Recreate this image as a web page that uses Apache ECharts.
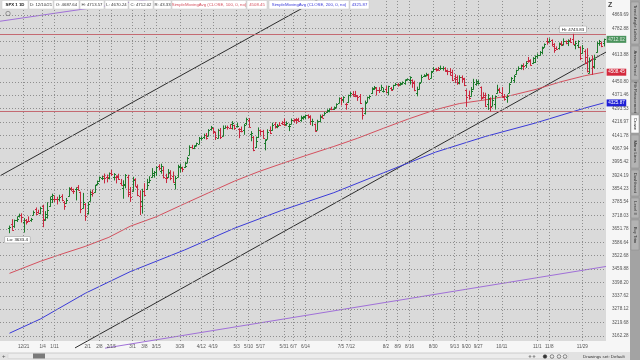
<!DOCTYPE html>
<html><head><meta charset="utf-8">
<script src="https://cdn.jsdelivr.net/npm/echarts@6/dist/echarts.min.js"></script>
<style>html,body{margin:0;padding:0;background:#fff;overflow:hidden}#c{width:640px;height:360px}</style>
</head><body><div id="c"></div>
<script>
// ---------- DATA ----------
const dates = [
'2020-12-11','2020-12-14','2020-12-15','2020-12-16','2020-12-17','2020-12-18','2020-12-21','2020-12-22','2020-12-23','2020-12-24','2020-12-28','2020-12-29','2020-12-30','2020-12-31',
'2021-01-04','2021-01-05','2021-01-06','2021-01-07','2021-01-08','2021-01-11','2021-01-12','2021-01-13','2021-01-14','2021-01-15','2021-01-19','2021-01-20','2021-01-21','2021-01-22','2021-01-25','2021-01-26','2021-01-27','2021-01-28','2021-01-29',
'2021-02-01','2021-02-02','2021-02-03','2021-02-04','2021-02-05','2021-02-08','2021-02-09','2021-02-10','2021-02-11','2021-02-12','2021-02-16','2021-02-17','2021-02-18','2021-02-19','2021-02-22','2021-02-23','2021-02-24','2021-02-25','2021-02-26',
'2021-03-01','2021-03-02','2021-03-03','2021-03-04','2021-03-05','2021-03-08','2021-03-09','2021-03-10','2021-03-11','2021-03-12','2021-03-15','2021-03-16','2021-03-17','2021-03-18','2021-03-19','2021-03-22','2021-03-23','2021-03-24','2021-03-25','2021-03-26','2021-03-29','2021-03-30','2021-03-31',
'2021-04-01','2021-04-05','2021-04-06','2021-04-07','2021-04-08','2021-04-09','2021-04-12','2021-04-13','2021-04-14','2021-04-15','2021-04-16','2021-04-19','2021-04-20','2021-04-21','2021-04-22','2021-04-23','2021-04-26','2021-04-27','2021-04-28','2021-04-29','2021-04-30',
'2021-05-03','2021-05-04','2021-05-05','2021-05-06','2021-05-07','2021-05-10','2021-05-11','2021-05-12','2021-05-13','2021-05-14','2021-05-17','2021-05-18','2021-05-19','2021-05-20','2021-05-21','2021-05-24','2021-05-25','2021-05-26','2021-05-27','2021-05-28',
'2021-06-01','2021-06-02','2021-06-03','2021-06-04','2021-06-07','2021-06-08','2021-06-09','2021-06-10','2021-06-11','2021-06-14','2021-06-15','2021-06-16','2021-06-17','2021-06-18','2021-06-21','2021-06-22','2021-06-23','2021-06-24','2021-06-25','2021-06-28','2021-06-29','2021-06-30',
'2021-07-01','2021-07-02','2021-07-06','2021-07-07','2021-07-08','2021-07-09','2021-07-12','2021-07-13','2021-07-14','2021-07-15','2021-07-16','2021-07-19','2021-07-20','2021-07-21','2021-07-22','2021-07-23','2021-07-26','2021-07-27','2021-07-28','2021-07-29','2021-07-30',
'2021-08-02','2021-08-03','2021-08-04','2021-08-05','2021-08-06','2021-08-09','2021-08-10','2021-08-11','2021-08-12','2021-08-13','2021-08-16','2021-08-17','2021-08-18','2021-08-19','2021-08-20','2021-08-23','2021-08-24','2021-08-25','2021-08-26','2021-08-27','2021-08-30','2021-08-31',
'2021-09-01','2021-09-02','2021-09-03','2021-09-07','2021-09-08','2021-09-09','2021-09-10','2021-09-13','2021-09-14','2021-09-15','2021-09-16','2021-09-17','2021-09-20','2021-09-21','2021-09-22','2021-09-23','2021-09-24','2021-09-27','2021-09-28','2021-09-29','2021-09-30',
'2021-10-01','2021-10-04','2021-10-05','2021-10-06','2021-10-07','2021-10-08','2021-10-11','2021-10-12','2021-10-13','2021-10-14','2021-10-15','2021-10-18','2021-10-19','2021-10-20','2021-10-21','2021-10-22','2021-10-25','2021-10-26','2021-10-27','2021-10-28','2021-10-29',
'2021-11-01','2021-11-02','2021-11-03','2021-11-04','2021-11-05','2021-11-08','2021-11-09','2021-11-10','2021-11-11','2021-11-12','2021-11-15','2021-11-16','2021-11-17','2021-11-18','2021-11-19','2021-11-22','2021-11-23','2021-11-24','2021-11-26','2021-11-29','2021-11-30',
'2021-12-01','2021-12-02','2021-12-03','2021-12-06','2021-12-07','2021-12-08','2021-12-09','2021-12-10'];

const open = [
3656.08,3675.27,3666.41,3696.25,3713.65,3722.39,3684.28,3698.08,3693.42,3694.03,3723.03,3750.01,3736.19,3733.27,
3764.61,3698.02,3712.20,3764.71,3815.05,3803.14,3801.62,3802.23,3814.98,3788.73,3781.88,3816.22,3857.46,3844.24,3851.68,3862.96,3836.83,3755.75,3778.05,
3731.17,3791.84,3840.27,3836.66,3878.30,3892.59,3910.49,3920.78,3916.40,3911.65,3939.61,3918.50,3915.86,3921.16,3885.55,3857.07,3873.71,3915.80,3839.66,
3842.51,3903.64,3863.99,3818.53,3793.58,3844.39,3851.93,3891.99,3915.54,3924.52,3942.96,3973.59,3949.57,3953.50,3913.14,3916.48,3937.60,3919.93,3879.34,3917.12,3969.31,3963.34,3967.25,
3992.78,4034.44,4075.57,4074.29,4089.95,4096.11,4124.71,4130.10,4141.58,4139.76,4174.14,4179.80,4159.18,4128.42,4170.46,4138.78,4185.03,4188.25,4185.14,4206.14,4198.10,
4191.98,4179.04,4177.06,4169.14,4210.34,4228.29,4150.34,4130.55,4074.99,4129.58,4169.92,4165.94,4098.45,4121.97,4168.61,4170.16,4205.94,4191.59,4201.94,4210.77,
4216.52,4206.82,4191.43,4206.05,4229.34,4233.81,4232.99,4228.56,4242.90,4248.31,4255.28,4248.87,4220.37,4204.78,4173.40,4224.61,4249.27,4256.97,4274.45,4284.90,4293.21,4290.65,
4300.73,4326.60,4356.46,4351.01,4321.07,4329.38,4372.41,4381.07,4380.11,4369.02,4367.43,4296.40,4265.11,4331.13,4361.27,4381.20,4409.58,4416.38,4402.95,4403.59,4395.12,
4406.86,4392.74,4415.95,4408.86,4429.07,4437.77,4435.79,4442.18,4446.08,4464.84,4461.65,4462.12,4440.94,4382.44,4410.56,4450.29,4484.40,4490.45,4493.75,4474.10,4513.76,4529.75,
4528.80,4534.48,4532.42,4535.38,4518.09,4513.02,4506.92,4474.81,4479.33,4447.49,4477.09,4469.74,4402.95,4374.45,4367.43,4406.75,4438.04,4442.12,4419.54,4362.41,4370.67,
4317.16,4348.84,4309.87,4319.57,4383.73,4406.51,4385.44,4368.31,4358.01,4386.75,4447.69,4463.72,4497.34,4524.42,4532.24,4546.12,4553.69,4578.69,4580.22,4562.84,4572.87,
4610.62,4613.34,4630.65,4662.93,4699.26,4701.48,4707.25,4670.26,4659.39,4655.24,4689.30,4679.42,4701.50,4700.72,4708.44,4712.00,4678.48,4675.78,4664.63,4628.75,4640.25,
4602.82,4504.73,4589.49,4548.37,4631.97,4690.86,4691.00,4687.64];

const high = [
3665.91,3697.61,3695.29,3711.27,3725.12,3726.70,3702.90,3698.26,3711.24,3703.82,3740.51,3756.12,3744.63,3760.20,
3769.99,3737.83,3783.04,3811.55,3826.69,3817.86,3810.78,3820.96,3823.60,3788.73,3804.53,3859.75,3861.45,3852.31,3859.23,3870.90,3836.83,3830.50,3778.05,
3784.32,3843.09,3847.51,3872.42,3894.56,3915.77,3918.35,3931.50,3925.99,3937.23,3950.43,3933.61,3921.98,3930.41,3902.92,3895.98,3928.65,3925.02,3861.08,
3914.50,3906.41,3874.47,3843.67,3851.69,3881.06,3903.76,3917.35,3960.27,3944.99,3970.08,3981.04,3983.87,3969.62,3930.12,3955.31,3949.13,3942.08,3919.54,3978.19,3981.83,3968.01,3994.41,
4020.63,4083.42,4086.23,4083.13,4098.19,4129.48,4131.76,4148.00,4151.69,4173.49,4191.31,4180.81,4159.18,4175.02,4179.57,4194.17,4194.19,4193.35,4201.53,4218.78,4198.10,
4209.39,4179.04,4187.72,4202.70,4238.04,4236.39,4162.04,4134.73,4131.58,4183.13,4171.92,4169.15,4116.93,4172.80,4188.72,4209.52,4213.42,4202.61,4213.38,4218.36,
4234.12,4217.37,4204.39,4233.45,4232.34,4236.74,4237.09,4249.74,4248.38,4255.59,4257.16,4251.89,4232.29,4204.78,4226.24,4255.84,4256.60,4271.28,4286.12,4292.14,4300.52,4302.43,
4320.66,4355.43,4356.46,4361.88,4324.32,4371.60,4386.68,4392.37,4393.68,4369.02,4375.09,4296.40,4336.84,4359.70,4369.87,4415.18,4422.73,4416.38,4415.47,4429.97,4412.25,
4422.18,4423.79,4416.17,4429.76,4440.82,4439.39,4445.21,4449.44,4461.77,4468.37,4480.26,4462.12,4454.32,4418.61,4444.35,4489.88,4492.81,4501.71,4495.90,4513.33,4537.36,4531.39,
4537.11,4545.85,4541.45,4535.38,4521.79,4529.90,4520.47,4492.99,4485.68,4486.87,4485.87,4471.52,4402.95,4394.87,4416.75,4465.40,4463.12,4457.30,4419.54,4385.57,4382.55,
4375.19,4355.51,4369.23,4365.57,4429.97,4412.02,4415.88,4374.89,4372.87,4439.73,4475.82,4488.75,4520.40,4540.87,4551.44,4559.67,4572.62,4598.53,4584.57,4597.55,4608.08,
4620.34,4635.15,4663.46,4683.00,4718.50,4714.92,4708.53,4684.85,4664.55,4688.47,4697.42,4714.95,4701.50,4708.80,4717.75,4743.83,4699.39,4702.87,4664.63,4672.95,4646.02,
4652.94,4595.46,4608.03,4612.60,4694.04,4705.06,4695.26,4713.57];

const low = [
3633.40,3645.84,3659.62,3688.57,3710.87,3685.84,3636.48,3676.16,3689.28,3689.32,3723.03,3723.31,3730.21,3726.88,
3662.71,3695.07,3705.34,3764.71,3783.60,3789.02,3776.51,3791.50,3792.86,3749.62,3780.37,3816.22,3845.05,3830.41,3797.16,3847.78,3732.48,3755.75,3694.12,
3725.62,3791.84,3816.68,3836.66,3874.93,3892.59,3902.64,3884.94,3890.39,3905.78,3923.85,3900.43,3885.03,3903.07,3874.71,3805.59,3859.60,3814.04,3789.54,
3842.51,3868.57,3818.86,3723.34,3730.19,3819.25,3851.93,3885.73,3915.54,3915.21,3923.54,3953.44,3935.74,3910.86,3886.75,3914.16,3901.57,3889.07,3853.50,3917.12,3943.25,3944.35,3966.98,
3992.78,4034.44,4068.14,4068.31,4082.54,4095.51,4114.82,4124.43,4120.87,4139.76,4170.75,4150.47,4118.38,4126.35,4123.69,4138.78,4182.36,4176.22,4181.78,4176.81,4174.85,
4188.03,4128.59,4160.94,4147.33,4201.64,4188.13,4111.53,4056.88,4074.99,4129.58,4142.69,4125.99,4061.41,4121.97,4151.72,4170.16,4182.52,4184.11,4197.78,4203.57,
4197.59,4198.27,4167.93,4206.05,4215.66,4208.41,4218.74,4220.34,4232.25,4234.07,4238.35,4202.45,4196.05,4164.40,4173.40,4217.27,4241.43,4256.97,4271.16,4274.67,4287.04,4287.96,
4300.73,4326.60,4314.37,4329.79,4289.52,4329.38,4364.03,4366.92,4362.36,4340.70,4322.53,4233.13,4262.05,4331.13,4350.06,4381.20,4405.45,4372.51,4387.01,4403.59,4389.65,
4384.81,4373.00,4400.23,4408.86,4429.07,4424.74,4430.03,4436.42,4435.96,4460.82,4437.66,4417.83,4397.59,4367.73,4406.80,4450.29,4482.28,4485.66,4468.99,4474.10,4513.76,4515.80,
4522.02,4524.66,4521.30,4513.00,4493.95,4492.07,4457.66,4445.70,4435.46,4438.37,4447.59,4427.76,4305.91,4347.96,4367.43,4406.75,4430.27,4436.19,4346.33,4355.08,4306.24,
4288.52,4278.94,4309.87,4290.49,4383.73,4386.22,4360.59,4342.09,4329.92,4386.75,4447.69,4447.47,4496.41,4524.40,4526.89,4524.00,4537.36,4569.17,4551.66,4562.84,4567.59,
4595.06,4613.34,4621.19,4662.59,4681.32,4694.39,4670.87,4630.86,4648.31,4650.77,4672.86,4679.42,4684.41,4672.78,4694.22,4682.17,4652.66,4659.89,4585.43,4625.26,4560.00,
4510.27,4504.73,4495.12,4532.46,4631.97,4674.52,4665.98,4670.24];

const close = [
3663.46,3647.49,3694.62,3701.17,3722.48,3709.41,3694.92,3687.26,3690.01,3703.06,3735.36,3727.04,3732.04,3756.07,
3700.65,3726.86,3748.14,3803.79,3824.68,3799.61,3801.19,3809.84,3795.54,3768.25,3798.91,3851.85,3853.07,3841.47,3855.36,3849.62,3750.77,3787.38,3714.24,
3773.86,3826.31,3830.17,3871.74,3886.83,3915.59,3911.23,3909.88,3916.38,3934.83,3932.59,3931.33,3913.97,3906.71,3876.50,3881.37,3925.43,3829.34,3811.15,
3901.82,3870.29,3819.72,3768.47,3841.94,3821.35,3875.44,3898.81,3939.34,3943.34,3968.94,3962.71,3974.12,3915.46,3913.10,3940.59,3910.52,3889.14,3909.52,3974.54,3971.09,3958.55,3972.89,
4019.87,4077.91,4073.94,4079.95,4097.17,4128.80,4127.99,4141.59,4124.66,4170.42,4185.47,4163.26,4134.94,4173.42,4134.98,4180.17,4187.62,4186.72,4183.18,4211.47,4181.17,
4192.66,4164.66,4167.59,4201.62,4232.60,4188.43,4152.10,4063.04,4112.50,4173.85,4163.29,4127.83,4115.68,4159.12,4155.86,4197.05,4188.13,4195.99,4200.88,4204.11,
4202.04,4208.12,4192.85,4229.89,4226.52,4227.26,4219.55,4239.18,4247.44,4255.15,4246.59,4223.70,4221.86,4166.45,4224.79,4246.44,4241.84,4266.49,4280.70,4290.61,4291.80,4297.50,
4319.94,4352.34,4343.54,4358.13,4320.82,4369.55,4384.63,4369.21,4374.30,4360.03,4327.16,4258.49,4323.06,4358.69,4367.48,4411.79,4422.30,4401.46,4400.64,4419.15,4395.26,
4387.16,4423.15,4402.66,4429.10,4436.52,4432.35,4436.75,4447.70,4460.83,4468.00,4479.71,4448.08,4400.27,4405.80,4441.67,4479.53,4486.23,4496.19,4470.00,4509.37,4528.79,4522.68,
4524.09,4536.95,4535.43,4520.03,4514.07,4493.28,4458.58,4468.73,4443.05,4480.70,4473.75,4432.99,4357.73,4354.19,4395.64,4448.98,4455.48,4443.11,4352.63,4359.46,4307.54,
4357.04,4300.46,4345.72,4363.55,4399.76,4391.34,4361.19,4350.65,4363.80,4438.26,4471.37,4486.46,4519.63,4536.19,4549.78,4544.90,4566.48,4574.79,4551.68,4596.42,4605.38,
4613.67,4630.65,4660.57,4680.06,4697.53,4701.70,4685.25,4646.71,4649.27,4682.85,4682.80,4700.90,4688.67,4704.54,4697.96,4682.94,4690.70,4701.46,4594.62,4655.27,4567.00,
4513.04,4577.10,4538.43,4591.67,4686.75,4701.21,4667.45,4712.02];

// Moving averages
const sma100Dates = ['2020-12-11','2020-12-31','2021-01-15','2021-01-29','2021-02-12','2021-02-26','2021-03-15','2021-03-31','2021-04-15','2021-04-30','2021-05-14','2021-05-28','2021-06-15','2021-06-30','2021-07-15','2021-07-30','2021-08-13','2021-08-31','2021-09-15','2021-09-30','2021-10-15','2021-10-29','2021-11-15','2021-11-30','2021-12-10'];
const sma100Vals  = [3440,3496,3534,3567,3611,3665,3712,3778,3833,3894,3943,3987,4034,4080,4125,4181,4231,4287,4322,4344,4370,4404,4451,4487,4508.45];
const sma200Dates = ['2020-12-11','2020-12-31','2021-01-29','2021-02-26','2021-03-31','2021-04-30','2021-05-28','2021-06-30','2021-07-30','2021-08-31','2021-09-30','2021-10-29','2021-11-30','2021-12-10'];
const sma200Vals  = [3174,3235,3349,3448,3550,3655,3744,3834,3938,4049,4135,4210,4296,4325.87];

// Price-axis ticks and labels
const yTicks = [3162.28,3219.68,3278.12,3337.62,3398.20,3459.88,3522.68,3586.64,3651.78,3718.03,3785.54,3854.23,3924.19,3995.42,4067.94,4141.78,4216.97,4293.53,4371.46,4450.80,4531.59,4613.88,4697.61,4782.88,4869.69];
const yTickLabels = ['3162.28','3219.68','3278.12','3337.62','3398.20','3459.88','3522.68','3586.64','3651.78','3718.03','3785.54','3854.23','3924.19','3995.42','4067.94','4141.78','4216.97','4293.53','4371.46','4450.80','','4613.88','','4782.88','4869.69'];
// Time-axis ticks and labels
const xTickDates = ['2020-12-21','2021-01-04','2021-01-11','2021-02-01','2021-02-08','2021-02-15','2021-03-01','2021-03-08','2021-03-15','2021-03-29','2021-04-12','2021-04-19','2021-05-03','2021-05-10','2021-05-17','2021-05-31','2021-06-07','2021-06-14','2021-07-05','2021-07-12','2021-08-02','2021-08-09','2021-08-16','2021-08-30','2021-09-13','2021-09-20','2021-09-27','2021-10-11','2021-11-01','2021-11-08','2021-11-29'];
const xTickLabels = ['12/21','1/4','1/11','2/1','2/8','2/15','3/1','3/8','3/15','3/29','4/12','4/19','5/3','5/10','5/17','5/31','6/7','6/14','7/5','7/12','8/2','8/9','8/16','8/30','9/13','9/20','9/27','10/11','11/1','11/8','11/29'];

// Drawing tools on the chart (bar index, price)
const hLinePrices = [4745, 4280];
const blackLine1 = [[-4, 3922], [135.4, 5016]];
const blackLine2 = [[27.7, 3112], [252, 4632]];
const purpleLine1 = [[-4, 4828], [63.6, 4982]];
const purpleLine2 = [[40.4, 3111], [252, 3472]];

// ---------- CHART ----------
const FONT = 'Liberation Sans, Arial, sans-serif';
const UP = '#1d7a2c', DN = '#c8283f';
const RED = '#d4505e', BLUE = '#3a3ad8', PURPLE = '#a070d8';
const N = dates.length;
const idxOf = d => { const k = dates.findIndex(x => x >= d); return k < 0 ? N - 1 : k; };
const bars = dates.map((d, i) => [i, open[i], high[i], low[i], close[i]]);
const sma100 = sma100Dates.map((d, k) => [idxOf(d), sma100Vals[k]]);
const sma200 = sma200Dates.map((d, k) => [idxOf(d), sma200Vals[k]]);
let hiIdx = 0, loIdx = 0;
for (let i = 1; i < N; i++) { if (high[i] > high[hiIdx]) hiIdx = i; if (low[i] < low[loIdx]) loIdx = i; }
const last = N - 1;

const chart = echarts.init(document.getElementById('c'), null, { renderer: 'canvas' });

const gridLines = [];
yTicks.forEach((v, k) => gridLines.push({ yAxis: v, label: { show: true, position: 'end', distance: 6, formatter: yTickLabels[k] } }));
xTickDates.forEach((d, k) => gridLines.push({ xAxis: idxOf(d), label: { show: true, position: 'start', distance: 3, formatter: xTickLabels[k] } }));

function tl(data, color, w) {
  return { type: 'line', data: data, clip: false, symbol: 'none', silent: true, animation: false, z: 3,
    lineStyle: { color: color, width: w || 1 } };
}

// header items
const hdr = [
  { x: 2, w: 26, t: 'SPX 1 1D', c: '#111', b: true },
  { x: 29, w: 24, t: 'D: ' + dates[last].slice(5, 7) + '/' + dates[last].slice(8) + '/' + dates[last].slice(2, 4), c: '#333' },
  { x: 54, w: 25, t: 'O: ' + open[last].toFixed(2), c: '#333' },
  { x: 80, w: 24, t: 'H: ' + high[last].toFixed(2), c: '#333' },
  { x: 105, w: 23, t: 'L: ' + low[last].toFixed(2), c: '#333' },
  { x: 129, w: 24, t: 'C: ' + close[last].toFixed(2), c: '#333' },
  { x: 154, w: 17, t: 'R: ' + (high[last] - low[last]).toFixed(2), c: '#333' },
  { x: 172, w: 74, t: 'SimpleMovingAvg (CLOSE, 100, 0, no)', c: RED },
  { x: 247, w: 20, t: sma100Vals[sma100Vals.length - 1].toFixed(2), c: RED },
  { x: 269, w: 80, t: 'SimpleMovingAvg (CLOSE, 200, 0, no)', c: BLUE },
  { x: 350, w: 19, t: sma200Vals[sma200Vals.length - 1].toFixed(2), c: BLUE }
];
const graphics = [];
// panels
graphics.push({ type: 'rect', z: 0, shape: { x: 606, y: 0, width: 24, height: 352 }, style: { fill: '#f6f6f6' } });
graphics.push({ type: 'rect', z: 0, shape: { x: 0, y: 341, width: 630, height: 11 }, style: { fill: '#f6f6f6' } });
graphics.push({ type: 'rect', z: 0, shape: { x: 0, y: 352, width: 630, height: 8 }, style: { fill: '#e2e2e2' } });
graphics.push({ type: 'rect', z: 0, shape: { x: 8, y: 353.5, width: 560, height: 5 }, style: { fill: '#ececec', stroke: '#cfcfcf', lineWidth: 0.5 } });
graphics.push({ type: 'rect', z: 0, shape: { x: 33, y: 353.5, width: 12, height: 5 }, style: { fill: '#7a7a7a' } });
graphics.push({ type: 'text', z: 0, style: { x: 2, y: 356, text: '+', font: '6px ' + FONT, fill: '#555', verticalAlign: 'middle' } });
graphics.push({ type: 'text', z: 0, style: { x: 583, y: 356.5, text: 'Drawings set: Default', font: '4.4px ' + FONT, fill: '#333', verticalAlign: 'middle' } });
[530, 534, 545, 552, 559, 565].forEach((x, k) => graphics.push({ type: 'circle', z: 0, shape: { cx: x, cy: 356.5, r: k < 2 ? 0.8 : 1.8 }, style: { fill: k === 2 ? '#333' : 'none', stroke: '#444', lineWidth: 0.6 } }));
graphics.push({ type: 'text', z: 0, style: { x: 608, y: 5, text: 'Z', font: 'bold 7px ' + FONT, fill: '#444', verticalAlign: 'middle' } });
// right sidebar
graphics.push({ type: 'rect', z: 0, shape: { x: 630, y: 0, width: 10, height: 360 }, style: { fill: '#a3a3a3' } });
const tabs = [[2, 44, 'Trend Angle Labels'], [46, 80, 'Arrows Trend'], [82, 113, 'Fib Retracement'], [115, 133, 'Crown'], [135, 168, 'Mirror Lines'], [170, 196, 'Dashboard'], [198, 218, 'Level II'], [220, 250, 'Buy Trim']];
tabs.forEach((t, k) => {
  graphics.push({ type: 'rect', z: 0, shape: { x: 631, y: t[0], width: 8, height: t[1] - t[0] }, style: { fill: k === 3 ? '#fafafa' : '#b3b3b3', stroke: '#8d8d8d', lineWidth: 0.5 } });
  graphics.push({ type: 'text', z: 1, x: 635, y: (t[0] + t[1]) / 2, rotation: -Math.PI / 2, style: { x: 0, y: 0, text: t[2], font: '4.2px ' + FONT, fill: k === 3 ? '#222' : '#333', align: 'center', verticalAlign: 'middle' } });
});
// header boxes
hdr.forEach(h => {
  graphics.push({ type: 'rect', z: 100, shape: { x: h.x, y: 0.5, width: h.w, height: 8.5 }, style: { fill: '#ffffff', stroke: '#c8c8c8', lineWidth: 0.5 } });
  graphics.push({ type: 'text', z: 101, style: { x: h.x + h.w / 2, y: 5, text: h.t, font: (h.b ? 'bold ' : '') + '4.3px ' + FONT, fill: h.c, align: 'center', verticalAlign: 'middle' } });
});
graphics.push({ type: 'circle', z: 101, shape: { cx: 8, cy: 13.5, r: 2.2 }, style: { fill: 'none', stroke: '#666', lineWidth: 0.6 } });

const option = {
  animation: false,
  backgroundColor: '#ffffff',
  grid: { left: 0, right: 34, top: 0, bottom: 19, show: true, backgroundColor: '#dadada', borderWidth: 0 },
  xAxis: { type: 'value', min: -4, max: 252, show: false },
  yAxis: { type: 'log', logBase: 10, min: 3141, max: 4968, show: false },
  graphic: graphics,
  series: [
    { type: 'line', data: [], silent: true, clip: false, z: 1,
      markLine: { silent: true, symbol: ['none', 'none'], animation: false,
        lineStyle: { type: [1, 2], color: '#8e8e8e', width: 1 },
        label: { fontFamily: FONT, fontSize: 4.6, color: '#555' },
        emphasis: { disabled: true },
        data: gridLines } },
    { type: 'line', data: [], silent: true, clip: false, z: 2,
      markLine: { silent: true, symbol: ['none', 'none'], animation: false,
        lineStyle: { type: 'solid', color: '#c46a72', width: 1 }, label: { show: false },
        emphasis: { disabled: true },
        data: hLinePrices.map(v => ({ yAxis: v })) } },
    tl(blackLine1, '#2c2c2c'),
    tl(blackLine2, '#2c2c2c'),
    tl(purpleLine1, PURPLE),
    tl(purpleLine2, PURPLE),
    { type: 'line', name: 'SMA200', data: sma200, symbol: 'none', silent: true, z: 4,
      lineStyle: { color: BLUE, width: 1 },
      endLabel: { show: true, formatter: p => p.value[1].toFixed(2), backgroundColor: '#2020d6', color: '#fff', fontFamily: FONT, fontSize: 4.6, padding: [1, 1.5], distance: 3 } },
    { type: 'line', name: 'SMA100', data: sma100, symbol: 'none', silent: true, z: 4,
      lineStyle: { color: RED, width: 1 },
      endLabel: { show: true, formatter: p => p.value[1].toFixed(2), backgroundColor: '#d42a3e', color: '#fff', fontFamily: FONT, fontSize: 4.6, padding: [1, 1.5], distance: 3 } },
    { type: 'custom', name: 'SPX', data: bars, z: 5, silent: true,
      encode: { x: 0, y: [1, 2, 3, 4] },
      renderItem: function (params, api) {
        const i = api.value(0);
        const o = api.coord([i, api.value(1)]);
        const h = api.coord([i, api.value(2)]);
        const l = api.coord([i, api.value(3)]);
        const c = api.coord([i, api.value(4)]);
        const x = Math.round(o[0]) + 0.5;
        const col = api.value(4) >= api.value(1) ? UP : DN;
        const yo = Math.round(o[1]) + 0.5, yc = Math.round(c[1]) + 0.5;
        const st = { stroke: col, lineWidth: 1 };
        return { type: 'group', children: [
          { type: 'line', shape: { x1: x, y1: h[1] - 0.5, x2: x, y2: l[1] + 0.5 }, style: st },
          { type: 'line', shape: { x1: x - 1.5, y1: yo, x2: x, y2: yo }, style: st },
          { type: 'line', shape: { x1: x, y1: yc, x2: x + 1.5, y2: yc }, style: st }
        ] };
      } },
    { type: 'scatter', data: [[last, close[last]]], symbolSize: 0, silent: true, z: 6, clip: false,
      label: { show: true, position: 'right', distance: 3, formatter: p => p.value[1].toFixed(2), backgroundColor: '#1f7a36', color: '#fff', fontFamily: FONT, fontSize: 4.6, padding: [1, 1.5] },
      markPoint: { symbol: 'rect', symbolSize: 0, silent: true, animation: false,
        data: [
          { coord: [hiIdx, high[hiIdx]], label: { show: true, position: 'top', distance: 2, formatter: 'Hi: ' + high[hiIdx].toFixed(2), backgroundColor: '#fff', borderColor: '#999', borderWidth: 0.5, color: '#222', fontFamily: FONT, fontSize: 4.4, padding: [1, 2] } },
          { coord: [loIdx, low[loIdx]], label: { show: true, position: 'bottom', distance: 4, offset: [8, 0], formatter: 'Lo: ' + String(low[loIdx]), backgroundColor: '#fff', borderColor: '#999', borderWidth: 0.5, color: '#222', fontFamily: FONT, fontSize: 4.4, padding: [1, 2] } }
        ] } }
  ]
};
chart.setOption(option);
</script>
</body></html>
